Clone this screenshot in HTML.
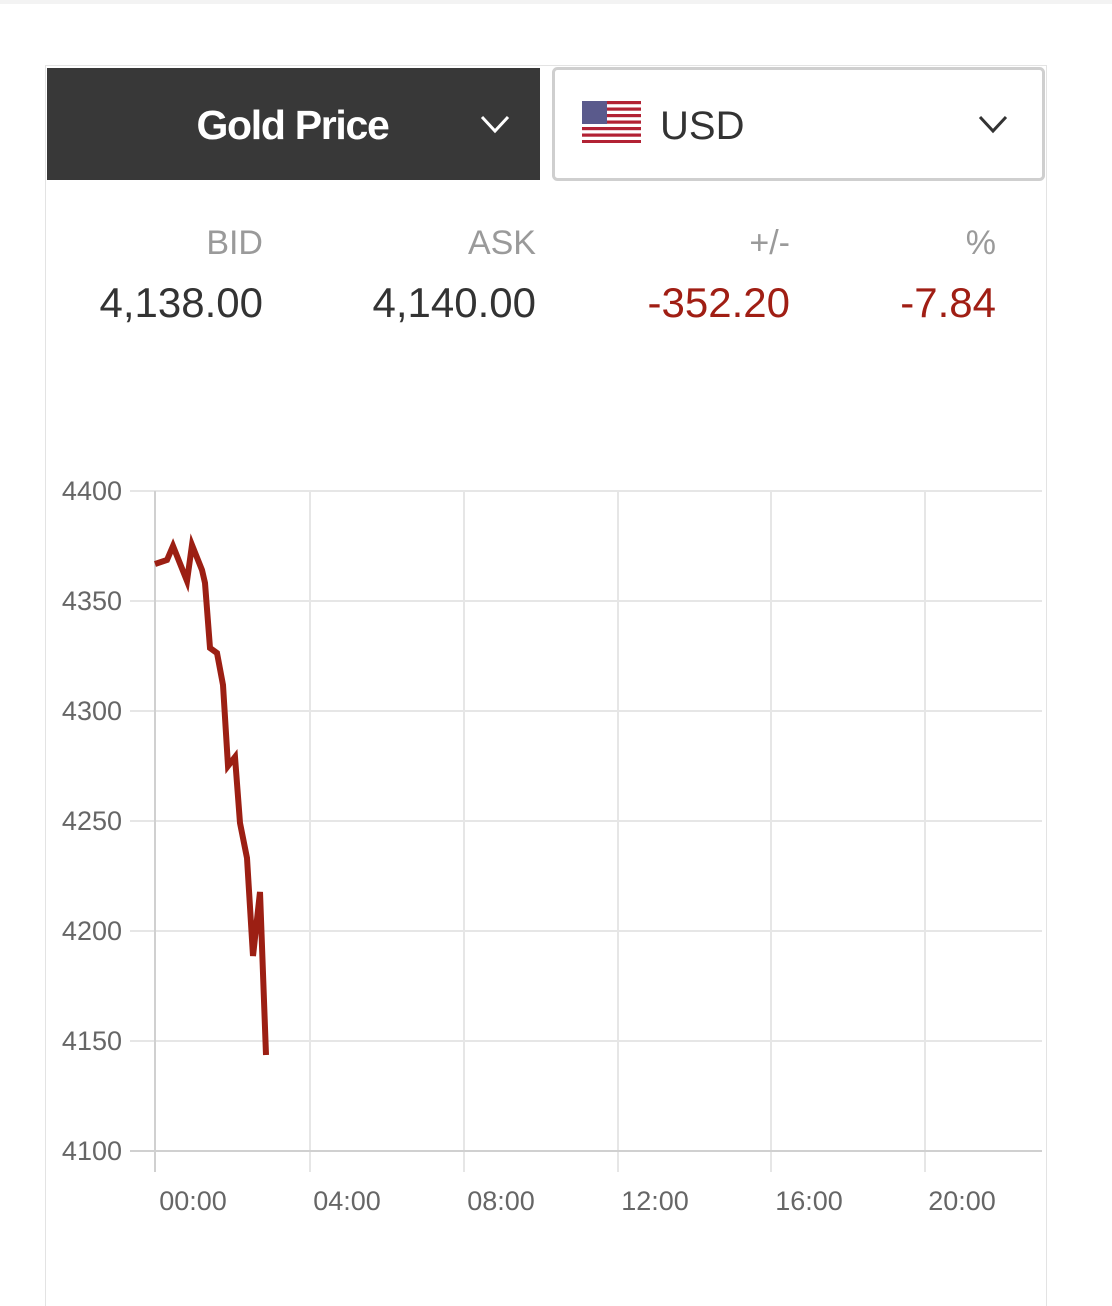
<!DOCTYPE html>
<html><head><style>
body{margin:0;width:1112px;height:1286px;background:#fff;font-family:"Liberation Sans",sans-serif;position:relative;overflow:hidden}
.a{position:absolute}
</style></head><body>
<div class="a" style="left:0;top:0;width:1112px;height:4px;background:#f3f3f3"></div>
<div class="a" style="left:45px;top:65px;width:1000px;height:1240px;border:1px solid #e3e3e3;border-bottom:none"></div>
<div class="a" style="left:47px;top:68px;width:493px;height:112px;background:#383838"></div>
<div class="a" style="left:145px;top:98px;width:295px;text-align:center;color:#fff;font-weight:bold;font-size:41px;letter-spacing:-1.3px;line-height:54px">Gold Price</div>
<svg class="a" style="left:0;top:0" width="1112" height="1286">
<polyline points="482,117 495,131 508,117" fill="none" stroke="#fff" stroke-width="3"/>
<rect x="553.5" y="68.5" width="490" height="111" rx="4" fill="none" stroke="#cfcfcf" stroke-width="3"/>
<polyline points="980,117 993,131 1006,117" fill="none" stroke="#333" stroke-width="3"/>
<g>
<rect x="582" y="101" width="59" height="42" fill="#fff"/>
<rect x="582" y="101" width="59" height="3.2" fill="#b22234"/><rect x="582" y="107.5" width="59" height="3.2" fill="#b22234"/><rect x="582" y="114" width="59" height="3.2" fill="#b22234"/><rect x="582" y="120.5" width="59" height="3.2" fill="#b22234"/><rect x="582" y="127" width="59" height="3.2" fill="#b22234"/><rect x="582" y="133.5" width="59" height="3.2" fill="#b22234"/><rect x="582" y="140" width="59" height="3" fill="#b22234"/>
<rect x="582" y="101" width="25" height="23" fill="#5a5a8c"/>
</g>
<g stroke="#e6e6e6" stroke-width="2">
<line x1="130" y1="491" x2="1042" y2="491"/><line x1="130" y1="601" x2="1042" y2="601"/><line x1="130" y1="711" x2="1042" y2="711"/><line x1="130" y1="821" x2="1042" y2="821"/><line x1="130" y1="931" x2="1042" y2="931"/><line x1="130" y1="1041" x2="1042" y2="1041"/>
<line x1="310" y1="491" x2="310" y2="1172"/><line x1="464" y1="491" x2="464" y2="1172"/><line x1="618" y1="491" x2="618" y2="1172"/><line x1="771" y1="491" x2="771" y2="1172"/><line x1="925" y1="491" x2="925" y2="1172"/>
</g>
<g stroke="#d0d0d0" stroke-width="2">
<line x1="155" y1="491" x2="155" y2="1172"/><line x1="130" y1="1151" x2="1042" y2="1151"/>
</g>
<polyline fill="none" stroke="#9c1f13" stroke-width="6" stroke-linejoin="miter" points="155,564 167,560 173,546 187,581 192,545 202,570 205,583 210,648 217,653 223,685 228,766 235,757 240,823 247,858 253,956 260,892 266,1055"/>
<g font-size="27" fill="#666" text-anchor="end">
<text x="122" y="500">4400</text><text x="122" y="610">4350</text><text x="122" y="720">4300</text><text x="122" y="830">4250</text><text x="122" y="940">4200</text><text x="122" y="1050">4150</text><text x="122" y="1160">4100</text>
</g>
<g font-size="27" fill="#666" text-anchor="middle">
<text x="193" y="1210">00:00</text><text x="347" y="1210">04:00</text><text x="501" y="1210">08:00</text><text x="655" y="1210">12:00</text><text x="809" y="1210">16:00</text><text x="962" y="1210">20:00</text>
</g>
<g font-size="34" fill="#9a9a9a" text-anchor="end">
<text x="263" y="254">BID</text><text x="536" y="254">ASK</text><text x="790" y="254">+/-</text><text x="996" y="254">%</text>
</g>
<g font-size="42" text-anchor="end">
<text x="263" y="317" fill="#333">4,138.00</text><text x="536" y="317" fill="#333">4,140.00</text><text x="790" y="317" fill="#a01e14">-352.20</text><text x="996" y="317" fill="#a01e14">-7.84</text>
</g>
<text x="660" y="139" font-size="40" fill="#333">USD</text>
</svg>
</body></html>
